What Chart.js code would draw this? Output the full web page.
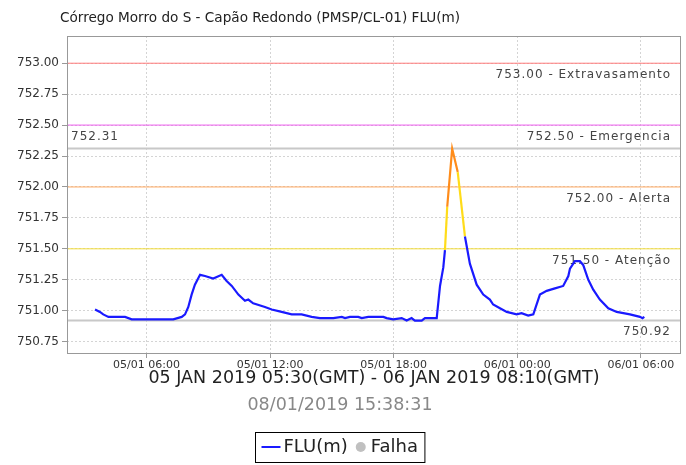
<!DOCTYPE html>
<html>
<head>
<meta charset="utf-8">
<script src="https://cdn.jsdelivr.net/npm/chart.js@4.4.1/dist/chart.umd.min.js"></script>
<style>
  html, body { margin: 0; padding: 0; background: #fff; }
  #wrap { width: 686px; height: 465px; }
</style>
</head>
<body>
<div id="wrap"><canvas id="levelChart"></canvas></div>
<script>
// hours counted from 05/01 00:00 (local time), level in metres
const hours = [3.50, 3.74, 3.90, 4.15, 4.96, 5.28, 7.30, 7.71, 7.87, 8.03, 8.19, 8.35, 8.60, 8.84,
  9.24, 9.65, 9.89, 10.14, 10.46, 10.78, 10.94, 11.18, 11.75, 12.08, 12.56, 13.05, 13.53, 14.02,
  14.42, 15.07, 15.48, 15.64, 15.88, 16.28, 16.45, 16.77, 17.50, 17.66, 17.98, 18.39, 18.63, 18.87,
  19.03, 19.36, 19.52, 20.09, 20.25, 20.41, 20.49, 20.60, 20.84, 21.11, 21.46, 21.70, 22.03, 22.35,
  22.67, 22.83, 23.16, 23.49, 23.97, 24.21, 24.53, 24.78, 25.10, 25.43, 25.83, 26.23, 26.48, 26.56,
  26.80, 27.04, 27.20, 27.45, 27.69, 28.01, 28.42, 28.83, 29.15, 29.47, 29.96, 30.08, 30.17];
const level = [751.01, 750.99, 750.97, 750.95, 750.95, 750.93, 750.93, 750.95, 750.97, 751.03, 751.13, 751.21, 751.29, 751.28,
  751.26, 751.29, 751.24, 751.20, 751.13, 751.08, 751.09, 751.06, 751.03, 751.01, 750.99, 750.97, 750.97, 750.95,
  750.94, 750.94, 750.95, 750.94, 750.95, 750.95, 750.94, 750.95, 750.95, 750.94, 750.93, 750.94, 750.92, 750.94,
  750.92, 750.92, 750.94, 750.94, 751.20, 751.35, 751.49, 751.84, 752.31, 752.12, 751.60, 751.38, 751.21, 751.13,
  751.09, 751.05, 751.02, 750.99, 750.97, 750.98, 750.96, 750.97, 751.13, 751.16, 751.18, 751.20, 751.28, 751.34,
  751.40, 751.40, 751.37, 751.25, 751.17, 751.09, 751.02, 750.99, 750.98, 750.97, 750.95, 750.94, 750.95];

const xTicks = [6, 12, 18, 24, 30];
const xTickLabels = ['05/01 06:00', '05/01 12:00', '05/01 18:00', '06/01 00:00', '06/01 06:00'];
const yTicks = [750.75, 751.00, 751.25, 751.50, 751.75, 752.00, 752.25, 752.50, 752.75, 753.00];

const limitValues = [753.00, 752.50, 752.00, 751.50];
const limitNames = ['Extravasamento', 'Emergencia', 'Alerta', 'Atenção'];
const limitColors = ['#ff7a7a', '#ee5cee', '#ffa860', '#f2dc3a'];
const maxLevel = 752.31;
const minLevel = 750.92;

const chartTitle = 'Córrego Morro do S - Capão Redondo (PMSP/CL-01) FLU(m)';
const periodText = '05 JAN 2019 05:30(GMT) - 06 JAN 2019 08:10(GMT)';
const stampText = '08/01/2019 15:38:31';

const FONT = '"DejaVu Sans", sans-serif';
Chart.defaults.font.family = FONT;

function levelColor(v){
  if (v >= 752.0) return '#ff8c1a';
  if (v >= 751.5) return '#ffdc1a';
  return '#1a1aff';
}

// horizontal reference lines, drawn as flat datasets across the x range
const X_MIN = 2.14, X_MAX = 31.95;
const refLines = [maxLevel, minLevel].map(v => ({
  data: [{x: X_MIN, y: v}, {x: X_MAX, y: v}],
  borderColor: '#c8c8c8', borderWidth: 2, pointRadius: 0, order: 3
})).concat(limitValues.map((v, i) => ({
  data: [{x: X_MIN, y: v}, {x: X_MAX, y: v}],
  borderColor: limitColors[i], borderWidth: 1, pointRadius: 0, order: 2
})));

const overlay = {
  id: 'overlay',
  beforeDatasetsDraw(chart){
    const {ctx, chartArea: a, scales: {y}} = chart;
    ctx.save();
    ctx.font = '12px ' + FONT;
    ctx.fillStyle = '#444';
    ctx.letterSpacing = '1px';
    ctx.textBaseline = 'middle';
    ctx.textAlign = 'right';
    limitValues.forEach((v, i) => {
      ctx.fillText(v.toFixed(2) + ' - ' + limitNames[i], a.right - 10, y.getPixelForValue(v) + 12);
    });
    ctx.fillText(minLevel.toFixed(2), a.right - 10, y.getPixelForValue(minLevel) + 11);
    ctx.textAlign = 'left';
    ctx.fillText(maxLevel.toFixed(2), a.left + 4, y.getPixelForValue(maxLevel) - 12);
    ctx.restore();
  },
  afterDraw(chart){
    const {ctx, chartArea: a, width} = chart;
    ctx.save();
    ctx.strokeStyle = '#999';
    ctx.lineWidth = 1;
    ctx.strokeRect(a.left + 0.5, a.top + 0.5, a.right - a.left - 1, a.bottom - a.top - 1);

    ctx.textBaseline = 'middle';
    ctx.fillStyle = '#222';
    ctx.font = '13.6px ' + FONT;
    ctx.textAlign = 'left';
    ctx.fillText(chartTitle, 60, 18);

    ctx.font = '17.5px ' + FONT;
    ctx.fillStyle = '#888';
    ctx.textAlign = 'center';
    ctx.fillText(stampText, 340, 405);

    // legend
    ctx.font = '18px ' + FONT;
    const w1 = ctx.measureText('FLU(m)').width;
    const w2 = ctx.measureText('Falha').width;
    const boxW = 6 + 18 + 4 + w1 + 8 + 10 + 5 + w2 + 7;
    const bx = Math.round(width / 2 - 3 - boxW / 2) + 0.5;
    const by = 432.5, cy = 447;
    ctx.strokeStyle = '#000';
    ctx.strokeRect(bx, by, boxW, 30);
    let cx = bx + 6;
    ctx.strokeStyle = '#1a1aff'; ctx.lineWidth = 2;
    ctx.beginPath(); ctx.moveTo(cx, cy); ctx.lineTo(cx + 19, cy); ctx.stroke();
    cx += 22;
    ctx.fillStyle = '#222'; ctx.textAlign = 'left';
    ctx.fillText('FLU(m)', cx, cy);
    cx += w1 + 13;
    ctx.fillStyle = '#c0c0c0';
    ctx.beginPath(); ctx.arc(cx, cy, 5, 0, Math.PI * 2); ctx.fill();
    cx += 10;
    ctx.fillStyle = '#222';
    ctx.fillText('Falha', cx, cy);
    ctx.restore();
  }
};

new Chart(document.getElementById('levelChart'), {
  type: 'line',
  data: {
    datasets: [{
      label: 'FLU(m)',
      data: hours.map((h, i) => ({x: h, y: level[i]})),
      borderColor: '#1a1aff',
      borderWidth: 2.2,
      pointRadius: 0,
      tension: 0,
      order: 1,
      segment: {
        borderColor: ctx => levelColor(ctx.p1.parsed.y)
      }
    }].concat(refLines)
  },
  options: {
    responsive: true,
    maintainAspectRatio: false,
    animation: false,
    layout: { padding: { top: 36, right: 5, left: 0, bottom: 76 } },
    plugins: { legend: { display: false }, tooltip: { enabled: false } },
    scales: {
      x: {
        type: 'linear',
        min: X_MIN,
        max: X_MAX,
        afterBuildTicks: s => { s.ticks = xTicks.map(v => ({value: v})); },
        afterFit: s => { s.height = 35; },
        grid: { color: '#d4d4d4', tickLength: 4, tickBorderDash: [], tickColor: '#999' },
        border: { display: false, dash: [2, 2] },
        ticks: {
          font: { size: 11 }, color: '#333', padding: 1, maxRotation: 0,
          callback: v => xTickLabels[xTicks.indexOf(v)]
        },
        title: { display: true, text: periodText, font: { size: 17.5 }, color: '#222', padding: { top: 0, bottom: 0 } }
      },
      y: {
        min: 750.65,
        max: 753.22,
        afterBuildTicks: s => { s.ticks = yTicks.map(v => ({value: v})); },
        afterFit: s => { s.width = 67; },
        grid: { color: '#d4d4d4', tickLength: 5, tickBorderDash: [], tickColor: '#999' },
        border: { display: false, dash: [2, 2] },
        ticks: { font: { size: 12 }, color: '#333', padding: 3, callback: v => v.toFixed(2) }
      }
    }
  },
  plugins: [overlay]
});
</script>
</body>
</html>
